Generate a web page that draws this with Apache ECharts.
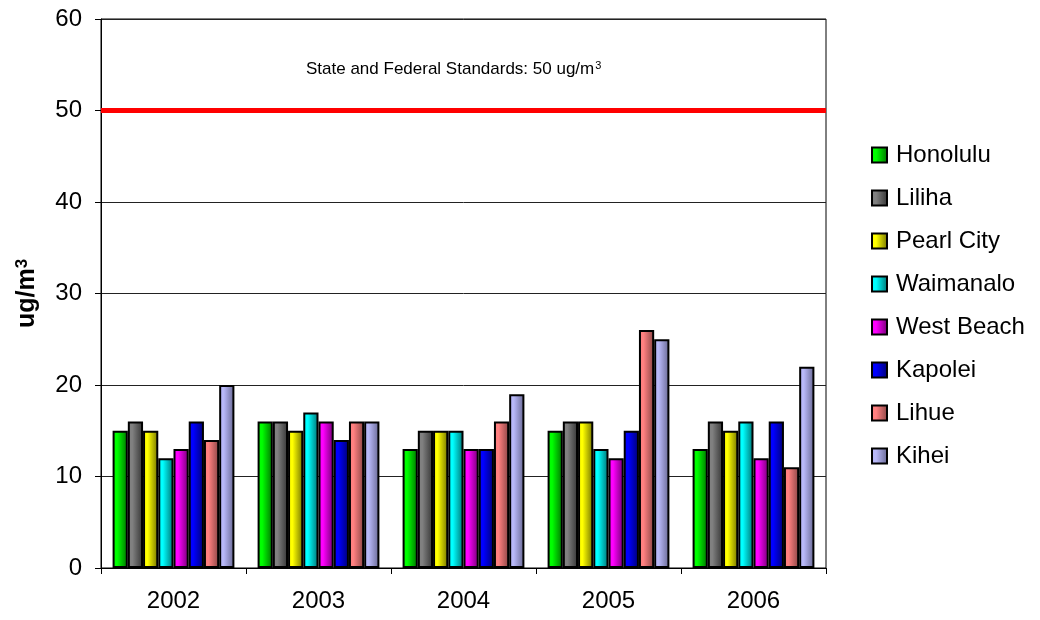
<!DOCTYPE html>
<html><head><meta charset="utf-8">
<script src="https://cdn.jsdelivr.net/npm/echarts@6/dist/echarts.min.js"></script>
<style>html,body{margin:0;padding:0;background:#fff}#c{width:1040px;height:620px}</style>
</head><body><div id="c"></div>
<script>
const years = ['2002','2003','2004','2005','2006'];
const seriesNames = ['Honolulu','Liliha','Pearl City','Waimanalo','West Beach','Kapolei','Lihue','Kihei'];
const honolulu  = [15,16,13,15,13];
const liliha    = [16,16,15,16,16];
const pearlCity = [15,15,15,16,15];
const waimanalo = [12,17,15,13,16];
const westBeach = [13,16,13,12,12];
const kapolei   = [16,14,13,15,16];
const lihue     = [14,16,16,26,11];
const kihei     = [20,16,19,25,22];
const standard = 50;
const yTicks = {min:0, max:60, interval:10};

const allData = [honolulu,liliha,pearlCity,waimanalo,westBeach,kapolei,lihue,kihei];
const colors = [['#00ff00','#007000'],['#808080','#333333'],['#ffff00','#707000'],['#00ffff','#007070'],['#ff00ff','#700070'],['#0000ff','#000070'],['#ff8080','#884444'],['#b8b8f8','#666690']];
function grad(c){return new echarts.graphic.LinearGradient(0,0,1,0,[{offset:0,color:c[0]},{offset:0.3,color:c[0]},{offset:1,color:c[1]}]);}

const series = seriesNames.map((n,i)=>({
  name:n, type:'bar', data:allData[i], barGap:'0%', barCategoryGap:'16%',
  itemStyle:{color:grad(colors[i]), borderColor:'#000', borderWidth:2},
  emphasis:{disabled:true}
}));
series[0].markLine = {
  silent:true, symbol:['none','none'], label:{show:false},
  lineStyle:{color:'#ff0000', width:5, type:'solid'},
  data:[{yAxis:standard}]
};

const chart = echarts.init(document.getElementById('c'));
chart.setOption({
  animation:false,
  textStyle:{fontFamily:'Liberation Sans, Arial, sans-serif'},
  grid:{left:101, right:214, top:19, bottom:52, show:true, borderColor:'#000', borderWidth:1, backgroundColor:'#fff'},
  legend:{orient:'vertical', left:866, top:138, itemWidth:15, itemHeight:15, itemGap:19,
    textStyle:{fontSize:24, lineHeight:24, color:'#000', padding:[0,0,0,4]}, icon:'rect', data:seriesNames},
  xAxis:{type:'category', data:years, boundaryGap:true,
    axisLine:{lineStyle:{color:'#000', width:1}},
    axisTick:{show:true, length:6, lineStyle:{color:'#000'}},
    axisLabel:{fontSize:24, color:'#000', margin:21}},
  yAxis:{type:'value', min:yTicks.min, max:yTicks.max, interval:yTicks.interval,
    name:'{b|ug/m}{s|3}', nameLocation:'middle', nameGap:60, nameRotate:90,
    nameTextStyle:{rich:{b:{fontSize:25, fontWeight:'bold', color:'#000'}, s:{fontSize:17, fontWeight:'bold', color:'#000', verticalAlign:'top', padding:[0,0,10,0]}}},
    axisLine:{show:true, lineStyle:{color:'#000', width:1}},
    axisTick:{show:true, length:6, lineStyle:{color:'#000'}},
    axisLabel:{fontSize:24, color:'#000', margin:19},
    splitLine:{lineStyle:{color:'#222', width:1}}},
  graphic:[{type:'text', left:306, top:60, style:{
    text:'{a|State and Federal Standards: 50 ug/m}{s|3}',
    rich:{a:{fontSize:17, fill:'#000', fontFamily:'Liberation Sans, Arial'}, s:{fontSize:11, fill:'#000', verticalAlign:'top', padding:[0,0,7,1]}}}}],
  series:series
});
</script></body></html>
